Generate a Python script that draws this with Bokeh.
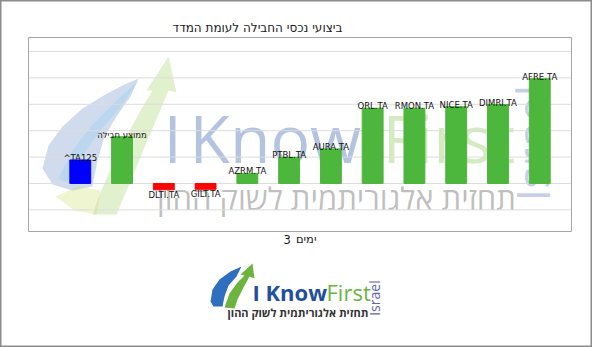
import math
from bokeh.plotting import figure
from bokeh.models import Label, Range1d, ColumnDataSource, PolyAnnotation
from bokeh.embed import file_html
from bokeh.resources import INLINE
from bokeh.core.properties import value

# ---- data ----
tickers = ["^TA125", "ממוצע חבילה", "DLTI.TA", "GILT.TA", "AZRM.TA", "PTBL.TA",
           "AURA.TA", "ORL.TA", "RMON.TA", "NICE.TA", "DIMRI.TA", "AFRE.TA"]
returns = [0.89, 1.77, -0.24, -0.22, 0.38, 0.99, 1.31, 2.85, 2.85, 2.91, 2.99, 3.97]
grid_values = [-1, 0, 1, 2, 3, 4, 5]
title_text = "ביצועי נכסי החבילה לעומת המדד"
xlabel_num = "3"
xlabel_word = "ימים"
wm_hebrew = "תחזית אלגוריתמית לשוק ההון"

# ---- styles / layout ----
INDEX_C, POS_C, NEG_C = "#0000ff", "#4db63c", "#ff0000"
W, H = 592, 347
BOX_X = (-1.24, 11.76)      # plot box extent (data units)
BOX_Y = (-1.82, 5.53)
X_RANGE = (-1.910, 12.263)  # whole canvas
Y_RANGE = (-6.215, 6.932)


def lab(cx, cy, text, **kw):
    """Label placed in canvas pixels (frame == canvas); cy measured from top."""
    kw.setdefault("text_baseline", "middle")
    return Label(x=cx, y=H - cy, x_units="screen", y_units="screen", text=text, **kw)


def poly(pts, color, alpha, level="underlay"):
    """Decorative logo shape in canvas pixels."""
    return PolyAnnotation(xs=[a for a, b in pts], ys=[H - b for a, b in pts],
                          xs_units="screen", ys_units="screen", fill_color=color,
                          fill_alpha=alpha, line_color=None, level=level)


xs = list(range(len(tickers)))
colors = [INDEX_C if i == 0 else (POS_C if v >= 0 else NEG_C) for i, v in enumerate(returns)]
src = ColumnDataSource(dict(x=xs, top=returns, color=colors, name=tickers))
pos = ColumnDataSource(dict(x=[x for x, v in zip(xs, returns) if v >= 0],
                            y=[v for v in returns if v >= 0],
                            t=[n for n, v in zip(tickers, returns) if v >= 0]))
neg = ColumnDataSource(dict(x=[x for x, v in zip(xs, returns) if v < 0],
                            y=[v for v in returns if v < 0],
                            t=[n for n, v in zip(tickers, returns) if v < 0]))

p = figure(width=W, height=H, x_range=Range1d(*X_RANGE), y_range=Range1d(*Y_RANGE),
           output_backend="svg", toolbar_location=None, title=None,
           x_axis_location=None, y_axis_location=None, min_border=0)
p.xgrid.visible = False
p.ygrid.visible = False
p.outline_line_color = "#8c8c8c"
p.outline_line_width = 2
p.background_fill_color = "white"
p.border_fill_color = "white"

# ---- watermark (underlay, below grid and bars) ----
WM = "Open Sans"
p.add_layout(poly([(42, 168), (48, 145), (62, 126), (82, 108), (105, 94), (124, 84), (138, 78),
                   (130, 96), (116, 116), (104, 136), (97, 160), (92, 186), (72, 190),
                   (52, 184)], "#4f73bd", 0.26))
p.add_layout(poly([(58, 178), (72, 150), (92, 124), (116, 100), (138, 80), (122, 104),
                   (100, 130), (80, 158), (66, 182)], "#8fd0f0", 0.35))
p.add_layout(poly([(92, 214), (100, 192), (112, 164), (126, 136), (140, 110), (152, 90),
                   (146, 90), (168, 56), (176, 92), (168, 90), (158, 114), (146, 142),
                   (132, 176), (116, 214)], "#8cc63f", 0.26))
p.add_layout(poly([(55, 196), (78, 186), (100, 190), (96, 214), (74, 210)], "#c8dc5a", 0.28))
p.add_layout(lab(163, 136, "I", text_font=WM, text_font_size="66px", text_color="#2f5aa8",
                 text_alpha=0.36, level="underlay"))
p.add_layout(lab(189, 136, "Know", text_font=WM, text_font_size="66px", text_color="#2f5aa8",
                 text_alpha=0.36, level="underlay"))
p.add_layout(lab(382, 136, "First", text_font=WM, text_font_size="66px", text_color="#7cc142",
                 text_alpha=0.33, level="underlay"))
p.add_layout(lab(336, 197, wm_hebrew, text_font=WM, text_font_size="31px", text_color="#808080",
                 text_alpha=0.5, text_align="center", level="underlay"))
p.add_layout(lab(531, 201, "Israel", text_font=WM, text_font_size="46px", text_color="#6a7fc0",
                 text_alpha=0.38, angle=math.pi / 2, level="underlay"))

# ---- plot box + grid ----
p.segment(x0=[BOX_X[0]] * len(grid_values), x1=[BOX_X[1]] * len(grid_values),
          y0=grid_values, y1=grid_values, line_color="#dcdcdc", line_width=1)
p.quad(left=[BOX_X[0]], right=[BOX_X[1]], bottom=[BOX_Y[0]], top=[BOX_Y[1]],
       fill_color=None, line_color="#a6a6a6", line_width=1)

# ---- bars ----
p.vbar(x="x", top="top", bottom=0, width=0.5, color="color", source=src)

LF = value("DejaVu Sans")
p.text(x="x", y="y", text="t", source=pos, text_font=LF, text_font_size="8.5px",
       text_align="center", text_baseline="alphabetic", y_offset=-2, text_color="#111111")
p.text(x="x", y="y", text="t", source=neg, text_font=LF, text_font_size="8.5px",
       text_align="center", text_baseline="top", y_offset=0, text_color="#111111")

# ---- titles ----
p.add_layout(lab(257, 27, title_text, text_font="DejaVu Sans", text_font_size="12px",
                 text_color="#1a1a1a", text_align="center"))
p.add_layout(lab(283, 238.5, xlabel_num, text_font="DejaVu Sans", text_font_size="11.5px",
                 text_color="#1a1a1a", text_align="left"))
p.add_layout(lab(316, 238.5, xlabel_word, text_font="DejaVu Sans", text_font_size="11.5px",
                 text_color="#1a1a1a", text_align="right"))

# ---- bottom logo ----
p.add_layout(poly([(210, 301), (212, 289), (219, 279), (230, 271), (241, 266), (236, 276),
                   (228, 285), (224, 296), (222, 306), (213, 306)], "#2e6fc0", 1.0,
                  level="overlay"))
p.add_layout(poly([(224, 307), (229, 293), (237, 282), (244, 275), (240, 274), (252, 263),
                   (254, 278), (249, 276), (243, 287), (237, 299), (234, 308)], "#6cb43f", 1.0,
                  level="overlay"))
p.add_layout(lab(252, 291.8, "I Know", text_font=WM, text_font_size="22px",
                 text_font_style="bold", text_color="#1f4f9e"))
p.add_layout(lab(326, 291.8, "First", text_font=WM, text_font_size="22px", text_color="#6cb43f"))
p.add_layout(lab(368, 311.7, wm_hebrew, text_font=WM, text_font_size="11px",
                 text_font_style="bold", text_color="#333333", text_align="right"))
p.add_layout(lab(374, 315.3, "Israel", text_font=WM, text_font_size="14px",
                 text_color="#6366ad", angle=math.pi / 2))

open("out.html", "w").write(file_html(p, INLINE))
